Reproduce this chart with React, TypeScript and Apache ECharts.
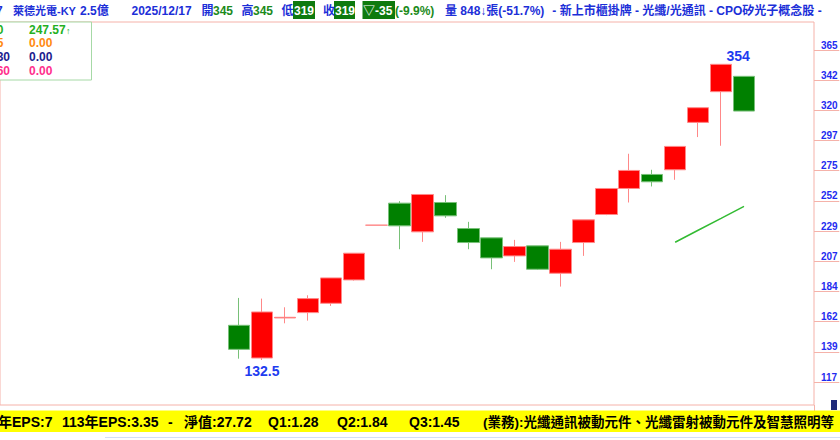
import React, { useEffect, useRef } from 'react';
import * as echarts from 'echarts';

// ---- data ----
const dates = [
  '2025/11/17', '2025/11/18', '2025/11/19', '2025/11/20', '2025/11/21',
  '2025/11/24', '2025/11/25', '2025/11/26', '2025/11/27', '2025/11/28',
  '2025/12/01', '2025/12/02', '2025/12/03', '2025/12/04', '2025/12/05',
  '2025/12/08', '2025/12/09', '2025/12/10', '2025/12/11', '2025/12/12',
  '2025/12/15', '2025/12/16', '2025/12/17',
];
const openPrices = [158.5, 134, 164, 168, 175, 192.5, 233.5, 250, 228.5, 250.5, 231, 224, 210.5, 218, 197.5, 220.5, 241.5, 261, 271.5, 275, 310.5, 333.5, 345];
const closePrices = [140.5, 168.5, 164.5, 178.5, 194, 212.5, 233.5, 233, 256.5, 240.5, 220.5, 209, 217.5, 200.5, 215.5, 237.5, 261, 274.5, 266, 292.5, 321.5, 354, 319];
const lowPrices = [133.5, 132.5, 160, 162, 173, 192, 233.5, 215.5, 221, 239, 215.5, 200.5, 206, 200, 187.5, 210.5, 241, 250.5, 262.5, 267.5, 299.5, 293, 319];
const highPrices = [179, 178.5, 172, 181, 194, 212.5, 233.5, 251.5, 256.5, 256, 236, 224, 222.5, 218, 221, 237.5, 261, 287, 275, 292.5, 321.5, 354, 345];
const ma20 = [null, null, null, null, null, null, null, null, null, null, null, null, null, null, null, null, null, null, null, 220.7, 229.7, 238.6, 247.57];
const yTickLabels = ['117', '139', '162', '184', '207', '229', '252', '275', '297', '320', '342', '365'];
const lowMark = { index: 1, value: 132.5 };
const highMark = { index: 21, value: 354 };
const volumeText = '848↓';
const volumePct = '-51.7%';
const maLegend = [
  { name: '20', value: '247.57', arrow: '↑', color: '#22b022', right: 3.5 },
  { name: '5', value: '0.00', arrow: '', color: '#ff8a10', right: 3.5 },
  { name: '30', value: '0.00', arrow: '', color: '#1c1c8e', right: 10 },
  { name: '60', value: '0.00', arrow: '', color: '#ff2f8c', right: 10 },
];
const fundamentals = [
  { text: '年EPS:7', x: -2, size: 14 },
  { text: '113年EPS:3.35', x: 62, size: 14 },
  { text: '-', x: 168, size: 14 },
  { text: '淨值:27.72', x: 184, size: 14 },
  { text: 'Q1:1.28', x: 268, size: 14 },
  { text: 'Q2:1.84', x: 337, size: 14 },
  { text: 'Q3:1.45', x: 409, size: 14 },
  { text: '(業務):光纖通訊被動元件、光纖雷射被動元件及智慧照明等', x: 483, size: 13.5 },
];

const FONT = "'Liberation Sans', 'Noto Sans CJK TC', sans-serif";
const BLUE = '#1c2fd8';
const GREEN_TXT = '#1b8a1b';
const BOX_GREEN = '#0e7a0e';
const FRAME = '#f5b2a9';

function buildOption() {
  const n = closePrices.length;
  const last = n - 1;
  const chg = closePrices[last] - closePrices[last - 1];
  const pct = (chg / closePrices[last - 1]) * 100;
  const t = (text: string, x: number, y: number, fill: string, size = 12, extra: any = {}) => ({
    type: 'text', x, y, z: 20,
    style: { text, fill, font: `bold ${size}px ${FONT}`, verticalAlign: 'middle', align: 'left', ...extra },
  });
  const box = (x: number, w: number) => ({ type: 'rect', z: 15, shape: { x, y: 1, width: w, height: 18 }, style: { fill: BOX_GREEN } });

  const graphic: any[] = [
    // header
    t('7', -4, 10.5, BLUE),
    t('萊德光電-KY', 13, 10.5, BLUE, 11),
    t('2.5億', 80, 10.5, BLUE),
    t(dates[last], 131.5, 10.5, BLUE),
    t('開', 201.5, 10.5, BLUE),
    t(String(openPrices[last]), 213, 10.5, GREEN_TXT),
    t('高', 241.5, 10.5, BLUE),
    t(String(highPrices[last]), 253, 10.5, GREEN_TXT),
    t('低', 281.5, 10.5, BLUE),
    box(293, 22),
    t(String(lowPrices[last]), 294, 10.5, '#ffffff'),
    t('收', 323, 10.5, BLUE),
    box(334, 21),
    t(String(closePrices[last]), 335, 10.5, '#ffffff'),
    box(362.5, 32.5),
    t('▽' + String(chg), 363, 10.5, '#ffffff'),
    t('(' + pct.toFixed(1) + '%)', 395, 10.5, GREEN_TXT),
    t('量 ' + volumeText + '張(' + volumePct + ')', 445, 10.5, BLUE),
    t(' - 新上市櫃掛牌 - 光纖/光通訊 - CPO矽光子概念股 -', 549, 10.5, BLUE),
    // legend box
    { type: 'rect', z: 12, shape: { x: -2, y: 22, width: 93.5, height: 58 }, style: { fill: '#ffffff', stroke: '#a6d9a6', lineWidth: 1 } },
    // axis line continues down to the info bar
    { type: 'line', z: 5, shape: { x1: 814.5, y1: 405, x2: 814.5, y2: 411 }, style: { stroke: FRAME, lineWidth: 1 } },
    // bottom yellow bar
    { type: 'rect', z: 5, shape: { x: 0, y: 410.5, width: 840, height: 21.5 }, style: { fill: '#ffff00' } },
    { type: 'line', z: 5, shape: { x1: 105, y1: 437.5, x2: 840, y2: 437.5 }, style: { stroke: '#d3def5', lineWidth: 1 } },
    { type: 'rect', z: 6, shape: { x: 831, y: 400, width: 6, height: 10 }, style: { fill: '#1f2a7a' } },
  ];
  maLegend.forEach((m, i) => {
    const y = 29.5 + i * 13.7;
    graphic.push(t(m.name, m.right, y, m.color, 12, { align: 'right' }));
    graphic.push(t(m.value, 29, y, m.color));
    if (m.arrow) graphic.push(t(m.arrow, 66, y + 1, m.color, 9, { font: `9px ${FONT}` }));
  });
  fundamentals.forEach((f) => graphic.push(t(f.text, f.x, 422, '#000000', f.size)));

  return {
    animation: false,
    backgroundColor: '#ffffff',
    grid: [
      { left: 227.5, right: 84.5, top: 22, bottom: 35 },
      { left: -2, right: 26, top: 22, bottom: 35, show: true, borderColor: FRAME, borderWidth: 1, backgroundColor: 'transparent' },
      { left: 814, right: 0, top: 50, bottom: 58 },
    ],
    xAxis: [
      { type: 'category', gridIndex: 0, data: dates, show: false, boundaryGap: true },
      { type: 'value', gridIndex: 1, min: 0, max: 1, show: false },
      { type: 'value', gridIndex: 2, min: 0, max: 1, show: false },
    ],
    yAxis: [
      { type: 'value', gridIndex: 0, min: 98.8, max: 385.7, show: false },
      { type: 'value', gridIndex: 1, min: 0, max: 1, show: false },
      {
        type: 'value', gridIndex: 2, position: 'left', min: 0, max: yTickLabels.length - 1, interval: 1,
        axisLine: { show: false },
        axisTick: { show: false },
        splitLine: { show: true, lineStyle: { color: FRAME, width: 1 } },
        axisLabel: {
          inside: true,
          formatter: (v: number) => yTickLabels[Math.round(v)] ?? '',
          color: '#1f2cf0', fontWeight: 'bold', fontSize: 10, margin: 7, verticalAlign: 'bottom', align: 'left', fontFamily: FONT,
        },
      },
    ],
    series: [
      {
        type: 'candlestick', xAxisIndex: 0, yAxisIndex: 0,
        data: dates.map((_, i) => [openPrices[i], closePrices[i], lowPrices[i], highPrices[i]]),
        barWidth: 22,
        itemStyle: { color: '#ff0000', color0: '#008000', borderColor: '#ff8888', borderColor0: '#78c078', borderWidth: 1 },
        markPoint: {
          symbol: 'circle', symbolSize: 1,
          itemStyle: { color: 'rgba(0,0,0,0)' },
          label: { show: true, position: 'inside', formatter: '{c}', color: '#1e3cf0', fontWeight: 'bold', fontSize: 14, fontFamily: FONT },
          data: [
            { coord: [dates[highMark.index], highMark.value], value: highMark.value, label: { offset: [17, -8] } },
            { coord: [dates[lowMark.index], lowMark.value], value: lowMark.value, label: { offset: [0, 11] } },
          ],
        },
      },
      {
        type: 'line', xAxisIndex: 0, yAxisIndex: 0, data: ma20, symbol: 'none', showSymbol: false,
        lineStyle: { color: '#33bb33', width: 1.5 },
      },
    ],
    graphic,
  };
}

export default function App() {
  const ref = useRef<HTMLDivElement>(null);
  useEffect(() => {
    document.body.style.margin = '0';
    const chart = echarts.init(ref.current as HTMLDivElement, null, { renderer: 'svg' });
    chart.setOption(buildOption() as any);
    return () => chart.dispose();
  }, []);
  return <div ref={ref} style={{ width: 840, height: 440 }} />;
}
